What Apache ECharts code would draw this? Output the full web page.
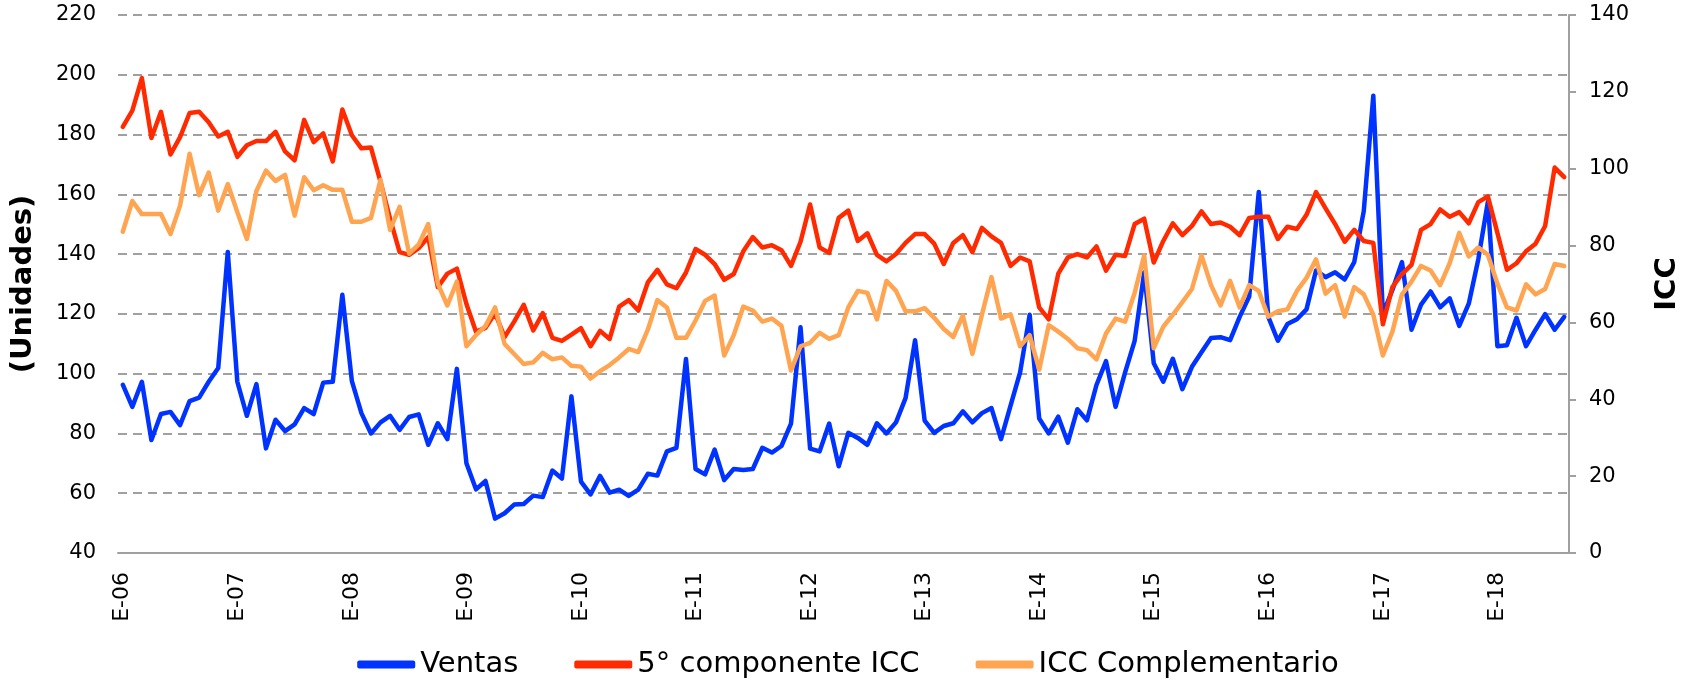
<!DOCTYPE html>
<html>
<head>
<meta charset="utf-8">
<title>Ventas e ICC</title>
<script src="https://cdn.jsdelivr.net/npm/echarts@6.0.0/dist/echarts.min.js"></script>
<style>
  html, body { margin: 0; padding: 0; background: #fff; }
  #chart { width: 1696px; height: 687px; }
</style>
</head>
<body>
<div id="chart"></div>
<script>
// meses: E F M A M J J A S O N D, de 2006 a ago-2018
const monthLetters = ['E', 'F', 'M', 'A', 'M', 'J', 'J', 'A', 'S', 'O', 'N', 'D'];
const years = ['06', '07', '08', '09', '10', '11', '12', '13', '14', '15', '16', '17', '18'];
const lastYearMonths = 8;

const ventas = [
    96.3, 88.9, 97.3, 77.8, 86.5, 87.2, 82.8, 90.8, 92.0, 97.3, 101.9, 140.7,
    97.3, 85.9, 96.5, 75.0, 84.6, 80.8, 83.0, 88.5, 86.5, 97.0, 97.3, 126.4,
    97.5, 86.8, 80.0, 83.7, 85.9, 81.2, 85.5, 86.4, 76.2, 83.4, 78.1, 101.6,
    70.0, 61.3, 64.1, 51.5, 53.3, 56.2, 56.4, 59.2, 58.7, 67.6, 64.9, 92.4,
    63.9, 59.6, 65.8, 60.2, 61.2, 59.1, 61.2, 66.5, 65.9, 74.0, 75.2, 104.9,
    68.1, 66.3, 74.6, 64.4, 68.1, 67.8, 68.1, 75.2, 73.6, 75.8, 83.3, 115.5,
    74.9, 74.0, 83.3, 69.0, 80.2, 78.5, 76.2, 83.4, 80.0, 83.7, 91.8, 111.2,
    84.3, 80.2, 82.5, 83.4, 87.4, 83.7, 86.8, 88.5, 78.1, 89.3, 100.4, 119.7,
    85.0, 80.0, 85.6, 76.9, 88.1, 84.4, 96.2, 104.2, 88.9, 100.4, 111.0, 133.9,
    103.5, 97.3, 105.0, 94.8, 102.3, 107.2, 111.9, 112.2, 111.2, 119.0, 125.8, 160.8,
    119.0, 111.0, 116.6, 118.2, 121.5, 134.5, 132.3, 133.9, 131.5, 137.3, 154.4, 193.0,
    120.0, 128.0, 137.3, 114.7, 123.1, 127.5, 122.2, 125.2, 116.0, 123.4, 138.3, 157.5,
    109.2, 109.5, 118.7, 109.2, 114.7, 119.9, 114.7, 119.0
];

const componenteICC = [
    110.9, 115.1, 123.6, 108.0, 114.8, 103.7, 108.2, 114.5, 114.8, 112.1, 108.4, 109.6,
    103.1, 106.1, 107.2, 107.2, 109.6, 104.5, 102.2, 112.7, 106.9, 109.2, 101.9, 115.4,
    108.7, 105.3, 105.5, 96.6, 87.0, 78.3, 77.6, 79.3, 82.2, 69.2, 72.7, 74.0,
    64.8, 57.6, 58.6, 62.4, 56.2, 60.2, 64.6, 57.9, 62.4, 56.0, 55.2, 56.8,
    58.5, 53.8, 57.8, 55.7, 64.1, 65.8, 63.1, 70.4, 73.7, 69.9, 68.9, 73.0,
    79.1, 77.6, 75.2, 71.1, 72.6, 78.5, 82.2, 79.5, 80.1, 78.8, 74.7, 81.0,
    90.7, 79.5, 78.1, 87.2, 89.1, 81.2, 83.2, 77.6, 75.9, 77.8, 80.7, 83.0,
    83.0, 80.5, 75.2, 80.7, 82.7, 78.3, 84.6, 82.4, 80.7, 74.7, 76.9, 75.9,
    63.9, 60.8, 72.7, 76.9, 77.8, 76.9, 79.8, 73.5, 77.6, 77.3, 85.6, 87.0,
    75.6, 81.2, 85.8, 82.7, 85.1, 88.9, 85.6, 86.0, 84.9, 82.7, 87.2, 87.5,
    87.5, 81.7, 84.9, 84.3, 88.0, 93.9, 89.7, 85.6, 81.0, 84.1, 81.2, 80.7,
    59.5, 69.2, 72.6, 75.0, 84.1, 85.6, 89.4, 87.5, 88.7, 85.8, 91.3, 92.8,
    83.3, 73.7, 75.4, 78.5, 80.5, 85.1, 100.3, 97.8
];

const iccComplementario = [
    83.6, 91.6, 88.2, 88.2, 88.2, 83.0, 90.4, 103.9, 93.1, 99.0, 89.1, 96.0,
    88.7, 81.7, 94.2, 99.5, 96.8, 98.4, 87.8, 97.8, 94.4, 95.7, 94.5, 94.5,
    86.2, 86.2, 87.2, 97.1, 84.1, 90.1, 77.9, 80.3, 85.6, 70.1, 64.4, 70.6,
    53.8, 56.7, 59.1, 63.9, 54.4, 51.8, 49.2, 49.6, 52.1, 50.4, 50.9, 48.7,
    48.5, 45.4, 47.3, 48.9, 50.9, 53.1, 52.3, 58.1, 65.8, 63.9, 56.0, 56.0,
    60.5, 65.6, 67.0, 51.4, 56.7, 64.1, 63.1, 60.2, 61.0, 59.1, 47.5, 53.8,
    54.7, 57.3, 55.7, 56.7, 63.9, 68.2, 67.7, 60.8, 70.8, 68.2, 62.9, 62.9,
    63.7, 61.2, 58.3, 56.2, 61.8, 51.8, 62.0, 71.8, 61.0, 62.1, 53.8, 56.7,
    47.7, 59.3, 57.6, 55.7, 53.3, 52.8, 50.4, 57.1, 61.0, 60.2, 67.7, 77.4,
    53.3, 58.9, 62.0, 65.3, 68.7, 77.4, 69.7, 64.4, 70.8, 63.9, 69.7, 68.2,
    61.5, 62.9, 63.4, 68.2, 71.6, 76.4, 67.5, 69.7, 61.5, 69.2, 67.3, 62.0,
    51.4, 57.6, 67.3, 70.6, 74.7, 73.5, 69.7, 75.4, 83.3, 77.2, 79.5, 77.6,
    70.1, 63.9, 63.1, 69.9, 67.3, 68.7, 75.2, 74.7
];

// categorias tipo "E-06", "F-06", ...
const categorias = [];
years.forEach((y, k) => {
    const n = k === years.length - 1 ? lastYearMonths : 12;
    for (let m = 0; m < n; m++) {
        categorias.push(monthLetters[m] + '-' + y);
    }
});

const font = 'DejaVu Sans';
const gris = '#a0a0a0';

const chart = echarts.init(document.getElementById('chart'));

const option = {
    backgroundColor: '#fff',
    animation: false,
    textStyle: { fontFamily: font, color: '#000' },
    grid: {
        left: 118,
        right: 127,
        top: 15,
        bottom: 134
    },
    legend: {
        left: 'center',
        top: 645,
        icon: 'roundRect',
        itemWidth: 58,
        itemHeight: 8,
        itemGap: 56,
        textStyle: { fontFamily: font, fontSize: 29, color: '#000' },
        data: ['Ventas', '5° componente ICC', 'ICC Complementario']
    },
    xAxis: {
        type: 'category',
        data: categorias,
        boundaryGap: true,
        axisLine: { show: true, lineStyle: { color: gris, width: 2 } },
        axisTick: { show: false },
        axisLabel: {
            interval: function (index) {
                return index % 12 === 0;
            },
            rotate: 90,
            margin: 19,
            fontSize: 22,
            fontFamily: font,
            color: '#000'
        },
        splitLine: { show: false }
    },
    yAxis: [
        {
            type: 'value',
            min: 40,
            max: 220,
            interval: 20,
            name: '(Unidades)',
            nameLocation: 'middle',
            nameRotate: 90,
            nameGap: 80,
            nameTextStyle: { fontFamily: font, fontSize: 29, fontWeight: 'bold', color: '#000' },
            axisLine: { show: false },
            axisTick: { show: false },
            axisLabel: { margin: 22, fontSize: 21, fontFamily: font, color: '#000' },
            splitLine: {
                show: true,
                lineStyle: { color: gris, width: 2, type: [9, 6] }
            }
        },
        {
            type: 'value',
            position: 'right',
            min: 0,
            max: 140,
            interval: 20,
            name: 'ICC',
            nameLocation: 'middle',
            nameRotate: 90,
            nameGap: 84,
            nameTextStyle: { fontFamily: font, fontSize: 29, fontWeight: 'bold', color: '#000' },
            axisLine: { show: true, lineStyle: { color: gris, width: 2 } },
            axisTick: { show: true, length: 7, lineStyle: { color: gris, width: 2 } },
            axisLabel: { margin: 20, fontSize: 21, fontFamily: font, color: '#000' },
            splitLine: { show: false }
        }
    ],
    series: [
        {
            name: 'Ventas',
            type: 'line',
            yAxisIndex: 0,
            data: ventas,
            symbol: 'none',
            itemStyle: { color: '#0033ff' },
            lineStyle: { color: '#0033ff', width: 4.5, join: 'round', cap: 'round' }
        },
        {
            name: '5° componente ICC',
            type: 'line',
            yAxisIndex: 1,
            data: componenteICC,
            symbol: 'none',
            itemStyle: { color: '#ff2a00' },
            lineStyle: { color: '#ff2a00', width: 4.5, join: 'round', cap: 'round' }
        },
        {
            name: 'ICC Complementario',
            type: 'line',
            yAxisIndex: 1,
            data: iccComplementario,
            symbol: 'none',
            itemStyle: { color: '#ffa552' },
            lineStyle: { color: '#ffa552', width: 4.5, join: 'round', cap: 'round' }
        }
    ]
};

chart.setOption(option);
</script>
</body>
</html>
